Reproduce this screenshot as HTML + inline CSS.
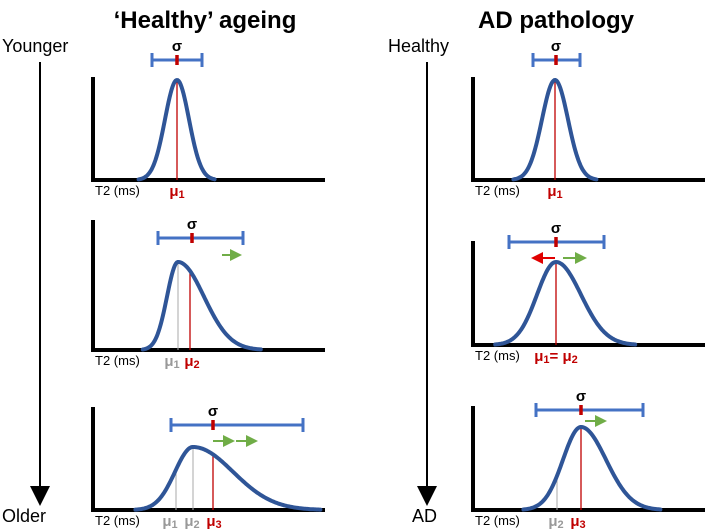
<!DOCTYPE html>
<html><head><meta charset="utf-8"><style>
body{margin:0;background:#fff}
svg{display:block;font-family:"Liberation Sans",sans-serif}
</style></head><body>
<svg id="fig" width="709" height="532" viewBox="0 0 709 532">
<defs>
<marker id="ga" markerWidth="6" markerHeight="6" refX="4" refY="3" orient="auto"><path d="M0,0 L6,3 L0,6z" fill="#70ad47"/></marker>
<marker id="ra" markerWidth="6" markerHeight="6" refX="4" refY="3" orient="auto"><path d="M0,0 L6,3 L0,6z" fill="#e00000"/></marker>
<marker id="ka" markerWidth="10" markerHeight="10" refX="5" refY="5" orient="auto"><path d="M0,0 L10,5 L0,10z" fill="#000"/></marker>
</defs>
<text x="205" y="28" text-anchor="middle" font-size="24" font-weight="bold">‘Healthy’ ageing</text>
<text x="556" y="28" text-anchor="middle" font-size="24" font-weight="bold">AD pathology</text>
<text x="2" y="52" font-size="18">Younger</text>
<text x="2" y="522" font-size="18">Older</text>
<text x="388" y="52" font-size="18">Healthy</text>
<text x="412" y="522" font-size="18">AD</text>
<line x1="40" y1="62" x2="40" y2="496" stroke="#000" stroke-width="2" marker-end="url(#ka)"/>
<line x1="427" y1="62" x2="427" y2="496" stroke="#000" stroke-width="2" marker-end="url(#ka)"/>
<g id="panels"></g>
</svg>
<script>
// panel geometry and distribution parameters
const axX=[93,93,93,473,473,473];
const axTop=[77,220,407,77,241,406];
const axBase=[180,350,510,180,345,510];
const axEnd=[325,325,325,705,705,705];
const peakX=[177,178,193,555,556,581];
const peakY=[80,262,447,80,262,427];
const sdL=[12,11,18,13,19,18];
const sdR=[12,26,40,13,25,25];
const barL=[152,158,171,533,509,536];
const barR=[202,243,303,580,604,643];
const barY=[60,238,425,60,242,410];
const barMid=[177,192,213,556,556,581];
const grayLines=[[],[178],[176,193],[],[],[557]];
const redLine=[177,190,213,555,556,581];
const muLabels=[[["μ1",177,"#c00000"]],[["μ1",172,"#999"],["μ2",192,"#c00000"]],[["μ1",170,"#999"],["μ2",192,"#999"],["μ3",214,"#c00000"]],[["μ1",555,"#c00000"]],[["μ1= μ2",556,"#c00000"]],[["μ2",556,"#999"],["μ3",578,"#c00000"]]];
const greenArrows=[[],[[222,241,255]],[[213,234,441],[236,257,441]],[],[[563,586,258]],[[585,606,421]]];
const redArrows=[[],[],[],[],[[555,532,258]],[]];
const NS='http://www.w3.org/2000/svg';
const g=document.getElementById('panels');
function mk(t,a,p){const e=document.createElementNS(NS,t);for(const k in a)e.setAttribute(k,a[k]);(p||g).appendChild(e);return e;}
for(let i=0;i<6;i++){
  const pg=mk('g',{});
  
  
  const ax=mk('path',{d:`M${axX[i]},${axTop[i]} L${axX[i]},${axBase[i]} L${axEnd[i]},${axBase[i]}`,fill:'none',stroke:'#000','stroke-width':4},pg);
  
  
  const yAt=x=>{const s=x<peakX[i]?sdL[i]:sdR[i];return axBase[i]-(axBase[i]-peakY[i])*Math.exp(-0.5*((x-peakX[i])/s)**2);};
  grayLines[i].forEach(x=>{
    const l=mk('line',{x1:x,x2:x,y1:axBase[i],y2:yAt(x),stroke:'#aaa','stroke-width':1},pg);
    
    
  });
  {const x=redLine[i];
   const l=mk('line',{x1:x,x2:x,y1:axBase[i],y2:yAt(x),stroke:'#c00000','stroke-width':1.3},pg);
   
   }
  let d='';
  const x0=peakX[i]-3.2*sdL[i],x1=peakX[i]+3.2*sdR[i];
  for(let x=x0;x<=x1;x+=1){d+=(d?'L':'M')+x.toFixed(1)+','+yAt(x).toFixed(1);}
  const c=mk('path',{d:d,fill:'none',stroke:'#2f5597','stroke-width':4,'stroke-linecap':'round'},pg);
  
  
  const b=mk('path',{d:`M${barL[i]},${barY[i]-7}v14M${barL[i]},${barY[i]}H${barR[i]}M${barR[i]},${barY[i]-7}v14`,fill:'none',stroke:'#4472c4','stroke-width':3},pg);
  
  
  const rt=mk('line',{x1:barMid[i],x2:barMid[i],y1:barY[i]-5,y2:barY[i]+5,stroke:'#c00000','stroke-width':3.5},pg);
  
  
  const sg=mk('text',{x:barMid[i],y:barY[i]-9,'text-anchor':'middle','font-size':15,'font-weight':'bold'},pg);
  sg.textContent='σ';
  
  
  const t2=mk('text',{x:axX[i]+2,y:axBase[i]+15,'font-size':13},pg);
  t2.textContent='T2 (ms)';
  
  
  muLabels[i].forEach(m=>{
    const t=mk('text',{x:m[1],y:axBase[i]+16,'text-anchor':'middle','font-size':15,'font-weight':'bold',fill:m[2]},pg);
    m[0].split(/(\d)/).forEach(part=>{
      if(!part)return;
      const ts=mk('tspan',{},t);
      if(/\d/.test(part)){ts.setAttribute('font-size','11');ts.setAttribute('dy','2');}
      else if(t.childNodes.length>1){ts.setAttribute('dy','-2');}
      ts.textContent=part;
    });
    
    
  });
  greenArrows[i].forEach(a=>{
    const l=mk('line',{x1:a[0],x2:a[1]-3,y1:a[2],y2:a[2],stroke:'#70ad47','stroke-width':2,'marker-end':'url(#ga)'},pg);
    
    
  });
  redArrows[i].forEach(a=>{
    const l=mk('line',{x1:a[0],x2:a[1]+3,y1:a[2],y2:a[2],stroke:'#e00000','stroke-width':2,'marker-end':'url(#ra)'},pg);
    
    
  });
}
</script>
</body></html>
